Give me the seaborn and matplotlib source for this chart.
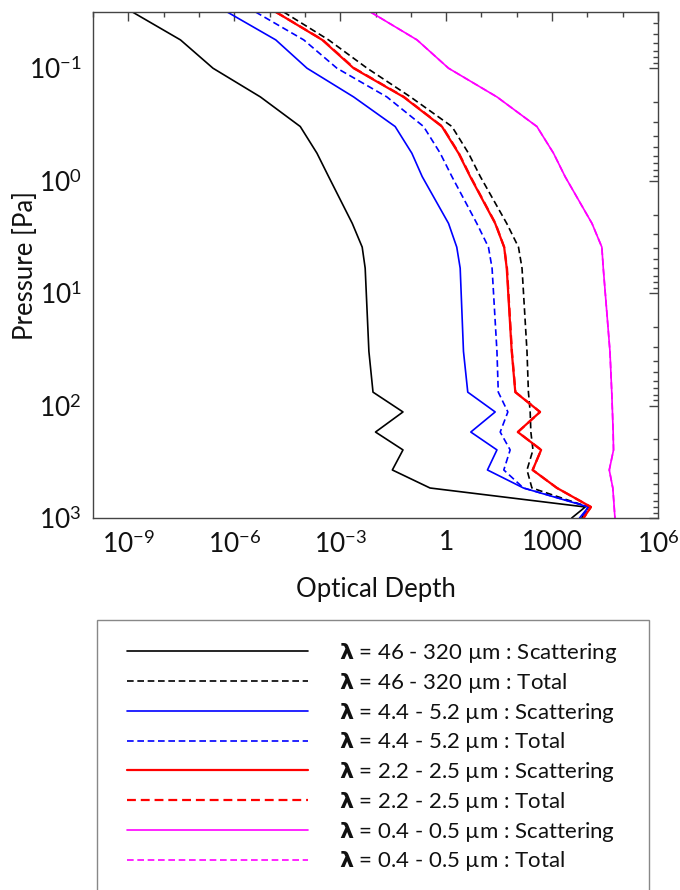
import numpy as np
import pandas as pd
import matplotlib
matplotlib.use("Agg")
import matplotlib.pyplot as plt
from matplotlib.patches import Rectangle
from matplotlib.ticker import LogLocator, NullFormatter
import seaborn as sns

# ---------------- data ----------------
pressure_pa = [0.0316, 0.056, 0.10, 0.18, 0.33, 0.57, 0.92, 2.4, 3.9, 6.0,
               33, 76, 114, 172, 248, 374, 541, 798, 1000]

tau_46_320_scat = [1.3e-9, 3.0e-8, 2.5e-7, 5.5e-6, 7.4e-5, 2.2e-4, 4.7e-4, 2.2e-3, 4.2e-3, 5.1e-3,
                   6.5e-3, 8.5e-3, 6.0e-2, 1.0e-2, 6.0e-2, 3.0e-2, 0.35, 8700, 3600]
tau_46_320_total = [2.5e-5, 4.7e-4, 5.8e-3, 0.098, 1.46, 4.3, 9.3, 52, 112, 141,
                    195, 214, 240, 251, 288, 195, 269, 10700, 6900]
tau_44_52_scat = [6.3e-7, 1.5e-5, 1.15e-4, 2.4e-3, 0.036, 0.107, 0.21, 1.17, 2.0, 2.5,
                  3.1, 4.1, 24.5, 5.0, 27.5, 14.8, 155, 10700, 6000]
tau_44_52_total = [4.0e-6, 9.3e-5, 8.1e-4, 0.021, 0.23, 0.68, 1.46, 7.4, 15.8, 20,
                   27.5, 30, 56, 34, 65, 43, 155, 11500, 6900]
tau_22_25_scat = [1.5e-5, 3.1e-4, 2.4e-3, 0.062, 0.76, 2.24, 4.8, 24.5, 44, 52,
                  72, 91, 457, 107, 490, 282, 1380, 12600, 7800]
tau_22_25_total = [1.5e-5, 3.2e-4, 2.5e-3, 0.064, 0.78, 2.3, 4.9, 25, 44, 53,
                   73, 92, 457, 108, 490, 282, 1380, 12600, 7800]
tau_04_05_scat = [7.2e-3, 0.15, 1.17, 27.5, 372, 1100, 2340, 13500, 25700, 28200,
                  43600, 49000, 51300, 53700, 55000, 41700, 52500, 57500, 60300]
tau_04_05_total = [7.2e-3, 0.15, 1.17, 27.5, 372, 1100, 2340, 13500, 25700, 28200,
                   43600, 49000, 51300, 53700, 55000, 41700, 52500, 57500, 60300]

band_labels = ["46 - 320 µm", "4.4 - 5.2 µm", "2.2 - 2.5 µm", "0.4 - 0.5 µm"]
band_colors = ["black", "blue", "red", "magenta"]
kinds = ["Scattering", "Total"]

x_tick_values = [1e-9, 1e-6, 1e-3, 1, 1e3, 1e6]
x_tick_labels = [r"$10^{-9}$", r"$10^{-6}$", r"$10^{-3}$", "1", "1000", r"$10^{6}$"]
y_tick_values = [0.1, 1, 10, 100, 1000]
y_tick_labels = [r"$10^{-1}$", r"$10^{0}$", r"$10^{1}$", r"$10^{2}$", r"$10^{3}$"]

series = [
    (tau_46_320_scat, tau_46_320_total),
    (tau_44_52_scat, tau_44_52_total),
    (tau_22_25_scat, tau_22_25_total),
    (tau_04_05_scat, tau_04_05_total),
]

# ---------------- style ----------------
sns.set_theme(style="white")
plt.rcParams["font.family"] = ["Lato", "DejaVu Sans"]
plt.rcParams["mathtext.fontset"] = "custom"
plt.rcParams["mathtext.rm"] = "Lato"
plt.rcParams["mathtext.it"] = "Lato:italic"
plt.rcParams["mathtext.bf"] = "DejaVu Sans:bold"
plt.rcParams["axes.unicode_minus"] = True

fig = plt.figure(figsize=(6.8, 8.9), dpi=100)
ax = fig.add_axes([93 / 680, 1 - 518 / 890, (658 - 93) / 680, (518 - 12) / 890])

handles = []
for (scat, tot), color, band in zip(series, band_colors, band_labels):
    for vals, kind in zip((scat, tot), kinds):
        df = pd.DataFrame({"tau": vals, "P": pressure_pa})
        ls = "-" if kind == "Scattering" else (0, (4, 2.2))
        lw = 1.6 if color == "red" else 1.2
        sns.lineplot(data=df, x="tau", y="P", sort=False, estimator=None,
                     color=color, linewidth=lw, linestyle=ls, ax=ax, legend=False)
        line = ax.get_lines()[-1]
        line.set_label(r"$\mathbf{\lambda}$" + f" = {band} : {kind}")
        handles.append(line)

if ax.get_legend() is not None:
    ax.get_legend().remove()

ax.set_xscale("log")
ax.set_yscale("log")
ax.set_xlim(1e-10, 1e6)
ax.set_ylim(1000, 10 ** -1.5)

ax.set_xticks(x_tick_values)
ax.set_xticklabels(x_tick_labels)
ax.xaxis.set_minor_locator(LogLocator(base=10, subs=(1.0,), numticks=40))
ax.xaxis.set_minor_formatter(NullFormatter())
ax.set_yticks(y_tick_values)
ax.set_yticklabels(y_tick_labels)
ax.yaxis.set_minor_locator(LogLocator(base=10, subs=np.arange(2, 10), numticks=40))
ax.yaxis.set_minor_formatter(NullFormatter())

ax.tick_params(which="both", direction="in", top=True, right=True,
               color="#444444", width=1.0)
ax.tick_params(which="major", length=6.5, labelsize=19, pad=8, labelcolor="#111111")
ax.tick_params(which="minor", length=3.8)
ax.tick_params(axis="x", which="major", pad=9)

for sp in ax.spines.values():
    sp.set_color("#444444")
    sp.set_linewidth(1.0)

ax.set_xlabel("Optical Depth", fontsize=18.5, color="#111111", labelpad=14)
ax.set_ylabel("Pressure [Pa]", fontsize=18.5, color="#111111")
ax.yaxis.set_label_coords((38 - 93) / 565, 0.5)
ax.grid(False)

# legend frame (open at the bottom edge of the figure)
frame = Rectangle((97 / 680, -0.05), (649 - 97) / 680, (1 - 620 / 890) + 0.05,
                  transform=fig.transFigure, facecolor="none",
                  edgecolor="#888888", linewidth=1.0)
fig.patches.append(frame)

leg = fig.legend(handles=handles, loc="upper left",
                 bbox_to_anchor=(127 / 680, 1 - 641 / 890),
                 fontsize=16, frameon=False,
                 handlelength=8.15, handletextpad=1.4, borderpad=0,
                 labelspacing=0.26, borderaxespad=0)
for t in leg.get_texts():
    t.set_color("#111111")

fig.savefig("out.png", dpi=100)
